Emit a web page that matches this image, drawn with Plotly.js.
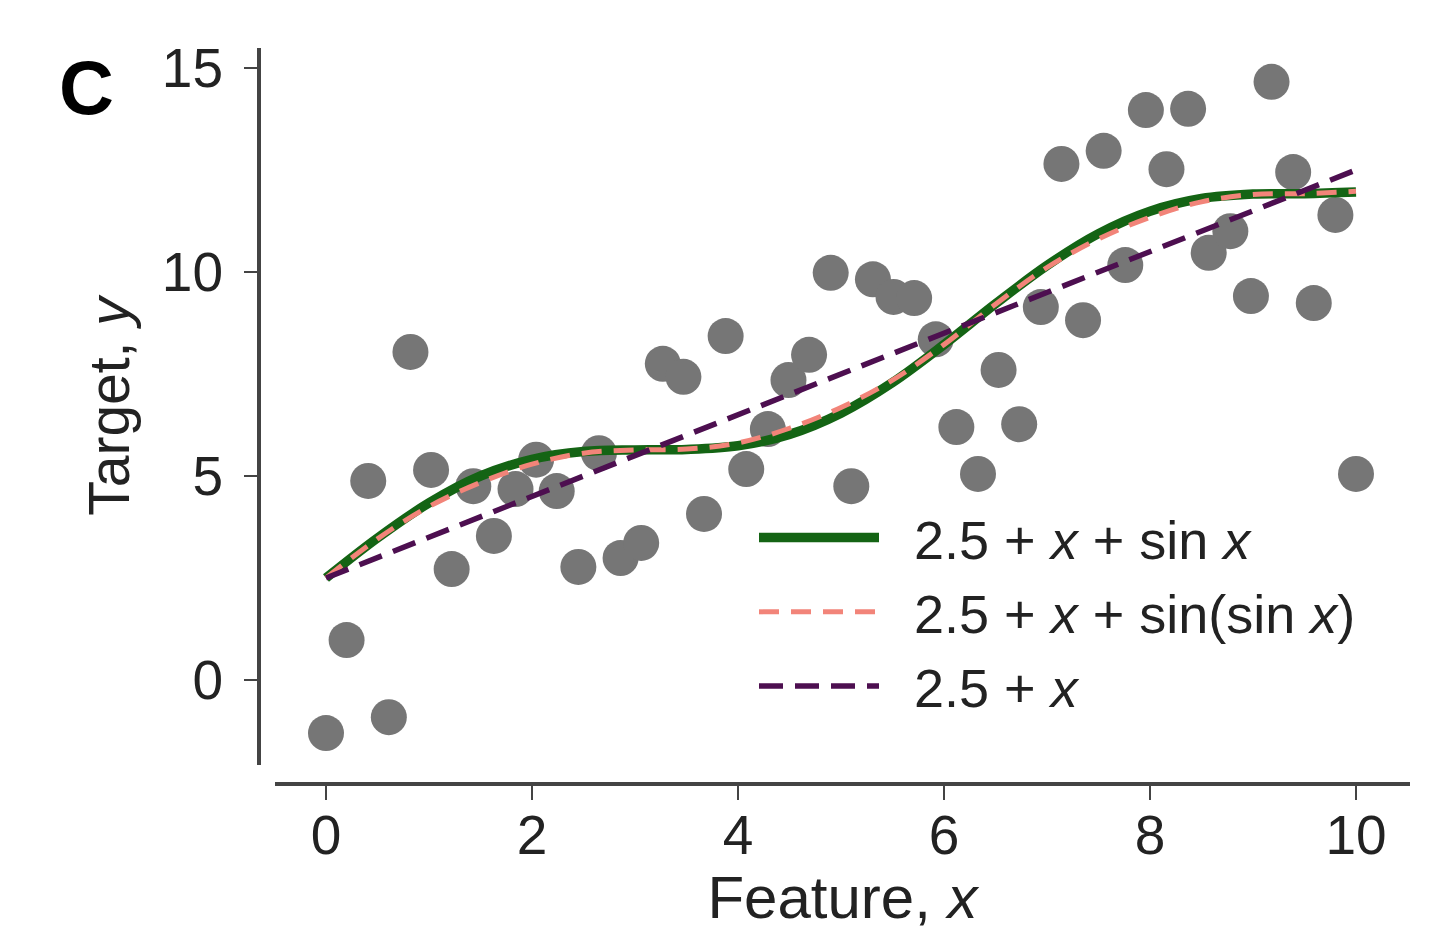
<!DOCTYPE html>
<html>
<head>
<meta charset="utf-8">
<script src="https://cdn.plot.ly/plotly-3.0.1.min.js"></script>
<style>html,body{margin:0;padding:0;background:#fff;}#chart{width:1435px;height:931px;}</style>
</head>
<body>
<div id="chart"></div>
<script>
// Scatter data
const pointX = [0, 0.2, 0.41, 0.61, 0.82, 1.02, 1.22, 1.43, 1.63, 1.84, 2.04, 2.24, 2.45, 2.65, 2.86, 3.06, 3.27, 3.47, 3.67, 3.88, 4.08, 4.29, 4.49, 4.69, 4.9, 5.1, 5.31, 5.51, 5.71, 5.92, 6.12, 6.33, 6.53, 6.73, 6.94, 7.14, 7.35, 7.55, 7.76, 7.96, 8.16, 8.37, 8.57, 8.78, 8.98, 9.18, 9.39, 9.59, 9.8, 10];
const pointY = [-1.30, 0.98, 4.88, -0.91, 8.04, 5.15, 2.72, 4.75, 3.53, 4.68, 5.40, 4.63, 2.77, 5.56, 2.99, 3.36, 7.75, 7.43, 4.07, 8.43, 5.17, 6.15, 7.35, 7.97, 9.98, 4.75, 9.82, 9.39, 9.36, 8.35, 6.20, 5.05, 7.60, 6.27, 9.14, 12.65, 8.82, 12.97, 10.17, 13.97, 12.52, 14.0, 10.47, 11.0, 9.41, 14.66, 12.45, 9.24, 11.40, 5.05];

// Curves
const curveX = [0, 0.5, 1, 1.5, 2, 2.5, 3, 3.5, 4, 4.5, 5, 5.5, 6, 6.5, 7, 7.5, 8, 8.5, 9, 9.5, 10];
const sinY = [2.5, 3.48, 4.34, 5.00, 5.41, 5.60, 5.64, 5.65, 5.74, 6.02, 6.54, 7.29, 8.22, 9.22, 10.16, 10.94, 11.49, 11.80, 11.91, 11.92, 11.96];
const sinSinY = [2.5, 3.46, 4.25, 4.84, 5.29, 5.56, 5.64, 5.66, 5.81, 6.17, 6.68, 7.35, 8.22, 9.21, 10.11, 10.81, 11.34, 11.72, 11.90, 11.92, 11.98];
const linX = [0, 10];
const linY = [2.5, 12.5];

const legendNames = ["2.5 + <i>x</i> + sin <i>x</i>", "2.5 + <i>x</i> + sin(sin <i>x</i>)", "2.5 + <i>x</i>"];
const xTicks = [0, 2, 4, 6, 8, 10];
const yTicks = [0, 5, 10, 15];

const FONT = "Liberation Sans, Arial, Helvetica, sans-serif";
const NB = "&nbsp;&nbsp;";

const traces = [
  {x: pointX, y: pointY, type: "scatter", mode: "markers", showlegend: false,
   marker: {size: 36, color: "#767676", line: {width: 0}}},
  {x: curveX, y: sinY, type: "scatter", mode: "lines", name: NB + legendNames[0], legendgroup: "a",
   line: {color: "#146414", width: 9.5, shape: "spline"}},
  {x: curveX, y: sinSinY, type: "scatter", mode: "lines", name: NB + legendNames[1], legendgroup: "b",
   line: {color: "#f28479", width: 5, dash: "20px,12px", shape: "spline"}},
  {x: linX, y: linY, type: "scatter", mode: "lines", name: NB + legendNames[2], legendgroup: "c",
   line: {color: "#4d0f50", width: 5.5, dash: "24px,12px"}}
];

const L = 258, R = 1410, T = 48, B = 783;
const W = 1435, H = 931;
const pw = R - L, ph = B - T;
const layout = {
  width: W, height: H,
  margin: {l: L, r: W - R, t: T, b: H - B, pad: 0},
  paper_bgcolor: "#fff", plot_bgcolor: "rgba(0,0,0,0)",
  font: {family: FONT, size: 54, color: "#222"},
  showlegend: true,
  legend: {x: (754 - L) / pw, y: 1 - (496 - T) / ph, xanchor: "left", yanchor: "top",
    bgcolor: "rgba(0,0,0,0)", borderwidth: 0, itemwidth: 120, tracegroupgap: 1,
    traceorder: "grouped", font: {family: FONT, size: 54, color: "#222"}},
  xaxis: {domain: [(275 - L) / pw, 1], anchor: "free", position: 0,
    range: [(275 - 326) / 103, (1410 - 326) / 103],
    tickvals: xTicks, ticktext: xTicks.map(String), ticks: "outside", ticklen: 14, tickwidth: 2.5, tickcolor: "#444",
    showline: true, linewidth: 3.5, linecolor: "#444", showgrid: false, zeroline: false,
    ticklabelstandoff: -12, tickfont: {family: FONT, size: 55, color: "#222"},
    title: {text: "Feature, <i>x</i>", font: {family: FONT, size: 60, color: "#222"}, standoff: 32}},
  yaxis: {domain: [(783 - 765) / ph, 1], anchor: "free", position: 0,
    range: [(680 - 765) / 40.8, (680 - 48) / 40.8],
    tickvals: yTicks, ticktext: yTicks.map(String), ticks: "outside", ticklen: 13, tickwidth: 2.5, tickcolor: "#444",
    showline: true, linewidth: 3.5, linecolor: "#444", showgrid: false, zeroline: false,
    ticklabelstandoff: 10, tickfont: {family: FONT, size: 55, color: "#222"},
    title: {text: "Target, <i>y</i>", font: {family: FONT, size: 57, color: "#222"}, standoff: 12}},
  annotations: [{text: "<b>C</b>", xref: "paper", yref: "paper", x: (86 - L) / pw, y: 1 - (88 - T) / ph,
    xanchor: "center", yanchor: "middle", showarrow: false, font: {family: FONT, size: 76, color: "#000"}}]
};

Plotly.newPlot("chart", traces, layout, {displayModeBar: false, staticPlot: true});
</script>
</body>
</html>
